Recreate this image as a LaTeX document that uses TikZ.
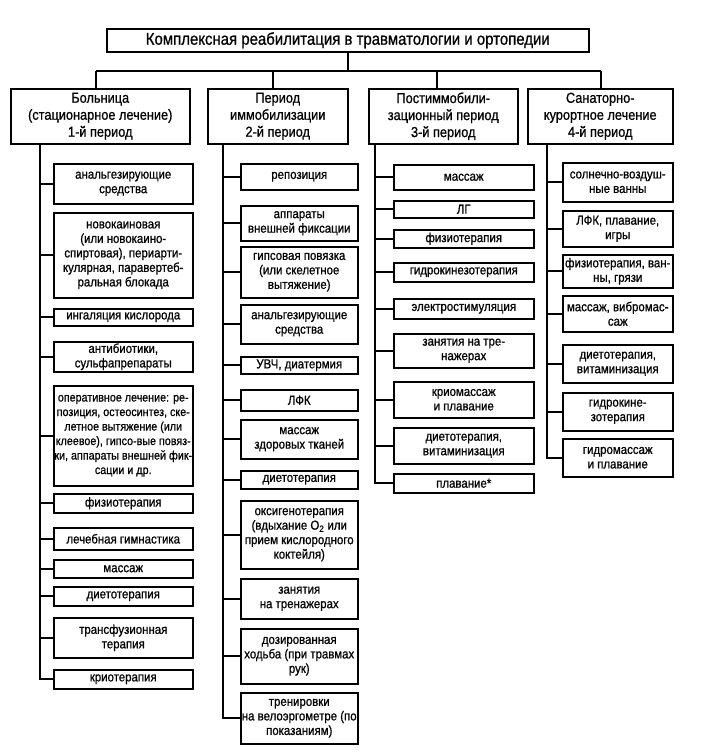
\documentclass[tikz,border=0pt]{standalone}
\usepackage{fontspec}
\setmainfont[FakeStretch=0.88,FakeBold=0.8]{Liberation Sans}
\usepackage{tikz}
\usetikzlibrary{calc,positioning}

\tikzset{
    box/.style={draw, line width=1.5pt, align=center, inner sep=0pt,
        anchor=north west, font=\fontsize{13}{14.5}\selectfont},
    hbox/.style={box, font=\fontsize{14.5}{17}\selectfont},
    tbox/.style={box, font=\fontsize{17}{20}\selectfont},
    link/.style={line width=1.6pt}
}

\begin{document}
\begin{tikzpicture}[x=1pt,y=-1pt]
        \useasboundingbox (0,0) rectangle (702,755);
        % title and periods
        \node[tbox, minimum width=482pt, minimum height=23pt] (top) at (106,28)
            {Комплексная реабилитация в травматологии и ортопедии};
        \node[hbox, minimum width=179pt, minimum height=55pt] (h1) at (10,88)
            {Больница\\(стационарное лечение)\\1-й период};
        \node[hbox, minimum width=140pt, minimum height=55pt] (h2) at (207,88)
            {Период\\иммобилизации\\2-й период};
        \node[hbox, minimum width=149pt, minimum height=55pt] (h3) at (368,88)
            {Постиммобили-\\зационный период\\3-й период};
        \node[hbox, minimum width=145pt, minimum height=55pt] (h4) at (527,88)
            {Санаторно-\\курортное лечение\\4-й период};
        \coordinate (v1) at (96,71);
        \coordinate (v2) at (273,71);
        \coordinate (v3) at (437,71);
        \coordinate (v4) at (601,71);
        \draw[link] (top.south) -- (top.south |- v1);
        \draw[link] (v1) -- (v4);
        \draw[link] (v1) -- (v1 |- h1.north);
        \draw[link] (v2) -- (v2 |- h2.north);
        \draw[link] (v3) -- (v3 |- h3.north);
        \draw[link] (v4) -- (v4 |- h4.north);

        % 1st period
        \node[box, minimum width=139pt, minimum height=40pt] (c1a) at (53,163)
            {анальгезирующие\\средства};
        \node[box, minimum width=139pt, minimum height=85pt] (c1b) at (53,212)
            {новокаиновая\\(или новокаино-\\спиртовая), периарти-\\кулярная, паравертеб-\\ральная блокада};
        \node[box, minimum width=139pt, minimum height=17pt] (c1c) at (53,308)
            {ингаляция кислорода};
        \node[box, minimum width=139pt, minimum height=30pt] (c1d) at (53,341)
            {антибиотики,\\сульфапрепараты};
        \node[box, minimum width=139pt, minimum height=100pt,
            font=\fontsize{12.2}{14.5}\selectfont] (c1e) at (53,385)
            {оперативное лечение: ре-\\позиция, остеосинтез, ске-\\летное вытяжение (или\\клеевое), гипсо-вые повяз-\\ки, аппараты внешней фик-\\сации и др.};
        \node[box, minimum width=139pt, minimum height=19pt] (c1f) at (53,493)
            {физиотерапия};
        \node[box, minimum width=139pt, minimum height=22pt] (c1g) at (53,527)
            {лечебная гимнастика};
        \node[box, minimum width=139pt, minimum height=18pt] (c1h) at (53,559)
            {массаж};
        \node[box, minimum width=139pt, minimum height=19pt] (c1i) at (53,586)
            {диетотерапия};
        \node[box, minimum width=139pt, minimum height=40pt] (c1j) at (53,617)
            {трансфузионная\\терапия};
        \node[box, minimum width=139pt, minimum height=19pt] (c1k) at (53,669)
            {криотерапия};
        \coordinate (s1) at (40,0);
        \draw[link] (h1.south -| s1) |- (c1k.west);
        \draw[link] (s1 |- c1a.west) -- (c1a.west) (s1 |- c1b.west) -- (c1b.west)
            (s1 |- c1c.west) -- (c1c.west) (s1 |- c1d.west) -- (c1d.west)
            (s1 |- c1e.west) -- (c1e.west) (s1 |- c1f.west) -- (c1f.west)
            (s1 |- c1g.west) -- (c1g.west) (s1 |- c1h.west) -- (c1h.west)
            (s1 |- c1i.west) -- (c1i.west) (s1 |- c1j.west) -- (c1j.west);

        % 2nd period
        \node[box, minimum width=117pt, minimum height=26pt] (c2a) at (240,163)
            {репозиция};
        \node[box, minimum width=117pt, minimum height=35pt] (c2b) at (240,205)
            {аппараты\\внешней фиксации};
        \node[box, minimum width=117pt, minimum height=51pt] (c2c) at (240,246)
            {гипсовая повязка\\(или скелетное\\вытяжение)};
        \node[box, minimum width=117pt, minimum height=39pt] (c2d) at (240,304)
            {анальгезирующие\\средства};
        \node[box, minimum width=117pt, minimum height=17pt] (c2e) at (240,356)
            {УВЧ, диатермия};
        \node[box, minimum width=117pt, minimum height=21pt] (c2f) at (240,389)
            {ЛФК};
        \node[box, minimum width=117pt, minimum height=39pt] (c2g) at (240,419)
            {массаж\\здоровых тканей};
        \node[box, minimum width=117pt, minimum height=18pt] (c2h) at (240,470)
            {диетотерапия};
        \node[box, minimum width=117pt, minimum height=68pt] (c2i) at (240,500)
            {оксигенотерапия\\(вдыхание O\textsubscript{2} или\\прием кислородного\\коктейля)};
        \node[box, minimum width=117pt, minimum height=40pt] (c2j) at (240,578)
            {занятия\\на тренажерах};
        \node[box, minimum width=117pt, minimum height=55pt] (c2k) at (240,628)
            {дозированная\\ходьба (при травмах\\рук)};
        \node[box, minimum width=117pt, minimum height=51pt] (c2l) at (240,692)
            {тренировки\\на велоэргометре (по\\показаниям)};
        \coordinate (s2) at (223,0);
        \draw[link] (h2.south -| s2) |- (c2l.west);
        \draw[link] (s2 |- c2a.west) -- (c2a.west) (s2 |- c2b.west) -- (c2b.west)
            (s2 |- c2c.west) -- (c2c.west) (s2 |- c2d.west) -- (c2d.west)
            (s2 |- c2e.west) -- (c2e.west) (s2 |- c2f.west) -- (c2f.west)
            (s2 |- c2g.west) -- (c2g.west) (s2 |- c2h.west) -- (c2h.west)
            (s2 |- c2i.west) -- (c2i.west) (s2 |- c2j.west) -- (c2j.west)
            (s2 |- c2k.west) -- (c2k.west);

        % 3rd period
        \node[box, minimum width=140pt, minimum height=25pt] (c3a) at (393,164)
            {массаж};
        \node[box, minimum width=140pt, minimum height=17pt] (c3b) at (393,200)
            {ЛГ};
        \node[box, minimum width=140pt, minimum height=18pt] (c3c) at (393,229)
            {физиотерапия};
        \node[box, minimum width=140pt, minimum height=19pt] (c3d) at (393,262)
            {гидрокинезотерапия};
        \node[box, minimum width=140pt, minimum height=20pt] (c3e) at (393,298)
            {электростимуляция};
        \node[box, minimum width=140pt, minimum height=34pt] (c3f) at (393,333)
            {занятия на тре-\\нажерах};
        \node[box, minimum width=140pt, minimum height=36pt] (c3g) at (393,381)
            {криомассаж\\и плавание};
        \node[box, minimum width=140pt, minimum height=36pt] (c3h) at (393,427)
            {диетотерапия,\\витаминизация};
        \node[box, minimum width=140pt, minimum height=19pt] (c3i) at (393,473)
            {плавание*};
        \coordinate (s3) at (375,0);
        \draw[link] (h3.south -| s3) |- (c3i.west);
        \draw[link] (s3 |- c3a.west) -- (c3a.west) (s3 |- c3b.west) -- (c3b.west)
            (s3 |- c3c.west) -- (c3c.west) (s3 |- c3d.west) -- (c3d.west)
            (s3 |- c3e.west) -- (c3e.west) (s3 |- c3f.west) -- (c3f.west)
            (s3 |- c3g.west) -- (c3g.west) (s3 |- c3h.west) -- (c3h.west);

        % 4th period
        \node[box, minimum width=110pt, minimum height=39pt] (c4a) at (562,162)
            {солнечно-воздуш-\\ные ванны};
        \node[box, minimum width=110pt, minimum height=36pt] (c4b) at (562,210)
            {ЛФК, плавание,\\игры};
        \node[box, minimum width=110pt, minimum height=33pt] (c4c) at (562,254)
            {физиотерапия, ван-\\ны, грязи};
        \node[box, minimum width=110pt, minimum height=36pt] (c4d) at (562,295)
            {массаж, вибромас-\\саж};
        \node[box, minimum width=110pt, minimum height=38pt] (c4e) at (562,344)
            {диетотерапия,\\витаминизация};
        \node[box, minimum width=110pt, minimum height=38pt] (c4f) at (562,392)
            {гидрокине-\\зотерапия};
        \node[box, minimum width=110pt, minimum height=38pt] (c4g) at (562,438)
            {гидромассаж\\и плавание};
        \coordinate (s4) at (547,0);
        \draw[link] (h4.south -| s4) |- (c4g.west);
        \draw[link] (s4 |- c4a.west) -- (c4a.west) (s4 |- c4b.west) -- (c4b.west)
            (s4 |- c4c.west) -- (c4c.west) (s4 |- c4d.west) -- (c4d.west)
            (s4 |- c4e.west) -- (c4e.west) (s4 |- c4f.west) -- (c4f.west);
    \end{tikzpicture}
\end{document}
